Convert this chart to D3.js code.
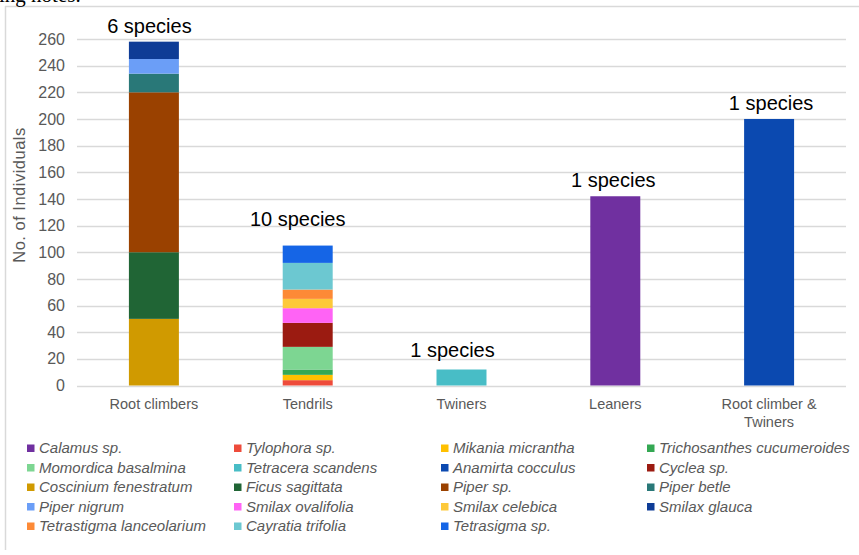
<!DOCTYPE html>
<html>
<head>
<meta charset="utf-8">
<script src="https://cdn.jsdelivr.net/npm/d3@7"></script>
<style>
  html, body { margin: 0; padding: 0; background: #ffffff; }
  svg { display: block; }
</style>
</head>
<body>
<svg id="chart" width="859" height="555"></svg>
<script>
// Climbing habit categories on the x axis
const categories = ["Root climbers", "Tendrils", "Twiners", "Leaners", "Root climber & Twiners"];

// Species, in series (stacking) order
const species = [
  "Calamus sp.", "Tylophora sp.", "Mikania micrantha", "Trichosanthes cucumeroides",
  "Momordica basalmina", "Tetracera scandens", "Anamirta cocculus", "Cyclea sp.",
  "Coscinium fenestratum", "Ficus sagittata", "Piper sp.", "Piper betle",
  "Piper nigrum", "Smilax ovalifolia", "Smilax celebica", "Smilax glauca",
  "Tetrastigma lanceolarium", "Cayratia trifolia", "Tetrasigma sp."
];

// Number of individuals of each species per category
// columns: Root climbers, Tendrils, Twiners, Leaners, Root climber & Twiners
const individuals = [
  [0, 0, 0, 142, 0],   // Calamus sp.
  [0, 4, 0, 0, 0],     // Tylophora sp.
  [0, 4, 0, 0, 0],     // Mikania micrantha
  [0, 4, 0, 0, 0],     // Trichosanthes cucumeroides
  [0, 17, 0, 0, 0],    // Momordica basalmina
  [0, 0, 12, 0, 0],    // Tetracera scandens
  [0, 0, 0, 0, 200],   // Anamirta cocculus
  [0, 18, 0, 0, 0],    // Cyclea sp.
  [50, 0, 0, 0, 0],    // Coscinium fenestratum
  [50, 0, 0, 0, 0],    // Ficus sagittata
  [120, 0, 0, 0, 0],   // Piper sp.
  [14, 0, 0, 0, 0],    // Piper betle
  [11, 0, 0, 0, 0],    // Piper nigrum
  [0, 11, 0, 0, 0],    // Smilax ovalifolia
  [0, 7, 0, 0, 0],     // Smilax celebica
  [13, 0, 0, 0, 0],    // Smilax glauca
  [0, 7, 0, 0, 0],     // Tetrastigma lanceolarium
  [0, 20, 0, 0, 0],    // Cayratia trifolia
  [0, 13, 0, 0, 0]     // Tetrasigma sp.
];

// Species count written above each bar
const speciesLabels = ["6 species", "10 species", "1 species", "1 species", "1 species"];

const yTicks = [0, 20, 40, 60, 80, 100, 120, 140, 160, 180, 200, 220, 240, 260];

const colors = [
  "#7030a0", "#ee4b3b", "#ffc000", "#34a853", "#7dd692", "#48bdc6", "#0b49b0",
  "#9b1b11", "#d09a00", "#206535", "#9a4100", "#297878", "#6b9ef7", "#ff63f5",
  "#fdc93a", "#0e3c96", "#fd8a36", "#6cc8d1", "#1565e6"
];

const svg = d3.select("#chart");
const W = 859, H = 555;
const margin = { left: 77, right: 13, top: 39, bottom: 169.5 };
const sans = "'Liberation Sans', Arial, sans-serif";

// Frame lines (top and left edge of the chart area)
svg.append("line").attr("x1", 5).attr("x2", 859).attr("y1", 6.5).attr("y2", 6.5)
  .attr("stroke", "#d9d9d9").attr("stroke-width", 1.5);
svg.append("line").attr("x1", 5.5).attr("x2", 5.5).attr("y1", 6).attr("y2", 550)
  .attr("stroke", "#d9d9d9").attr("stroke-width", 1.5);

// Tail of the preceding body text
svg.append("text").attr("x", -1).attr("y", 1.5)
  .attr("font-family", "'Liberation Serif', 'Times New Roman', serif")
  .attr("font-size", 21).attr("fill", "#000")
  .text("ing notes.");

const x = d3.scaleBand().domain(categories)
  .range([margin.left, W - margin.right]).paddingInner(0.675).paddingOuter(0.3375);
const y = d3.scaleLinear().domain([0, 260]).range([H - margin.bottom, margin.top]);

// Gridlines
svg.append("g").selectAll("line").data(yTicks).join("line")
  .attr("x1", margin.left).attr("x2", W - margin.right)
  .attr("y1", d => Math.round(y(d)) + 0.5).attr("y2", d => Math.round(y(d)) + 0.5)
  .attr("stroke", "#d9d9d9").attr("stroke-width", 1.4);

// Y axis labels
const yAxis = d3.axisLeft(y).tickValues(yTicks).tickSize(0).tickPadding(0);
const gy = svg.append("g").attr("transform", `translate(65,0)`).call(yAxis);
gy.select(".domain").remove();
gy.selectAll("text").attr("font-family", sans)
  .attr("font-size", 16).attr("fill", "#595959");

// Y axis title
svg.append("text")
  .attr("transform", `translate(25,195) rotate(-90)`)
  .attr("text-anchor", "middle")
  .attr("font-family", sans)
  .attr("font-size", 16.5).attr("letter-spacing", 0.5).attr("fill", "#595959")
  .text("No. of Individuals");

// Stacked bars
const table = categories.map((c, j) => {
  const row = { category: c };
  species.forEach((s, i) => { row[s] = individuals[i][j]; });
  return row;
});
const stack = d3.stack().keys(species)(table);

svg.append("g").selectAll("g").data(stack).join("g")
  .attr("fill", (d, i) => colors[i])
  .selectAll("rect").data(d => d.filter(p => p[1] - p[0] > 0)).join("rect")
  .attr("x", d => x(d.data.category))
  .attr("width", x.bandwidth())
  .attr("y", d => y(d[1]))
  .attr("height", d => y(d[0]) - y(d[1]));

// X axis labels (wrapped)
const xLabels = svg.append("g");
categories.forEach(c => {
  const words = c === "Root climber & Twiners" ? ["Root climber &", "Twiners"] : [c];
  const cx = x(c) + x.bandwidth() / 2;
  const t = xLabels.append("text")
    .attr("x", cx).attr("y", 409)
    .attr("text-anchor", "middle")
    .attr("font-family", sans)
    .attr("font-size", 14.5).attr("fill", "#595959");
  words.forEach((w, k) => {
    t.append("tspan").attr("x", cx).attr("dy", k ? 17.5 : 0).text(w);
  });
});

// Species count labels above the bars (hand-placed text boxes, nudged per bar)
const totals = categories.map((c, j) => d3.sum(individuals, r => r[j]));
const labelNudge = [[-4.5, -9], [-10, -20], [-9, -13], [-2, -9], [2, -9]];
svg.append("g").selectAll("text").data(categories).join("text")
  .attr("x", (c, j) => x(c) + x.bandwidth() / 2 + labelNudge[j][0])
  .attr("y", (c, j) => y(totals[j]) + labelNudge[j][1])
  .attr("text-anchor", "middle")
  .attr("font-family", sans)
  .attr("font-size", 20).attr("fill", "#000")
  .text((c, j) => speciesLabels[j]);

// Legend: four columns, row-major
const legendCols = [27, 234, 441, 647];
const legendRow0 = 448, legendRowStep = 19.5;
const lg = svg.append("g").selectAll("g").data(species).join("g")
  .attr("transform", (d, i) => `translate(${legendCols[i % 4]},${legendRow0 + Math.floor(i / 4) * legendRowStep})`);
lg.append("rect").attr("x", 0).attr("y", -3.5).attr("width", 7.5).attr("height", 7.5)
  .attr("fill", (d, i) => colors[i]);
lg.append("text").attr("x", 12).attr("y", 5)
  .attr("font-family", sans)
  .attr("font-style", "italic")
  .attr("font-size", 15).attr("fill", "#595959")
  .text(d => d);
</script>
</body>
</html>
